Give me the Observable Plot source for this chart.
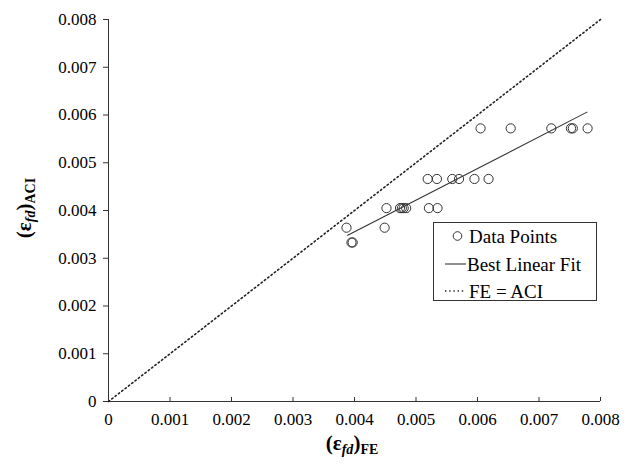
<!DOCTYPE html>
<html><head><meta charset="utf-8">
<script src="https://cdn.jsdelivr.net/npm/d3@7"></script>
<script src="https://cdn.jsdelivr.net/npm/@observablehq/plot@0.6"></script>
<style>
body{margin:0;background:#fff;}
#wrap{position:relative;width:639px;height:465px;}
</style></head><body><div id="wrap"></div>
<script>
const feStrain = [0.00605,0.00654,0.00720,0.00752,0.00755,0.00779,
  0.00519,0.00534,0.00559,0.00570,0.00595,0.00618,
  0.00452,0.00474,0.00477,0.00480,0.00484,0.00521,0.00535,
  0.00387,0.00449,
  0.00395,0.00397];
const aciStrain = [0.00572,0.00572,0.00572,0.00572,0.00572,0.00572,
  0.00466,0.00466,0.00466,0.00466,0.00466,0.00466,
  0.00405,0.00405,0.00405,0.00405,0.00405,0.00405,0.00405,
  0.00364,0.00364,
  0.00333,0.00333];
const fitX = [0.00389, 0.00778];
const fitY = [0.00348, 0.00606];
const equalX = [0, 0.008];
const equalY = [0, 0.008];
const tickValues = [0,0.001,0.002,0.003,0.004,0.005,0.006,0.007,0.008];
const tickLabels = ["0","0.001","0.002","0.003","0.004","0.005","0.006","0.007","0.008"];
const legendLabels = ["Data Points","Best Linear Fit","FE = ACI"];

const points = feStrain.map((x,i)=>({x, y: aciStrain[i]}));
const fit = fitX.map((x,i)=>({x, y: fitY[i]}));
const eq = equalX.map((x,i)=>({x, y: equalY[i]}));
const fmt = d => tickLabels[tickValues.indexOf(d)];
const ink = "#333";
const font = "'Liberation Serif', 'Times New Roman', serif";

const chart = Plot.plot({
  width: 639, height: 465,
  marginLeft: 108, marginRight: 39, marginTop: 19, marginBottom: 64,
  style: {fontFamily: font, fontSize: "17px", color: "#000", background: "#fff"},
  x: {domain: [0, 0.008]},
  y: {domain: [0, 0.008]},
  marks: [
    Plot.axisY(tickValues, {tickSize: 5, tickPadding: 7, tickFormat: fmt, label: null, stroke: ink, fontSize: 17}),
    Plot.axisX(tickValues, {tickSize: 0, tickPadding: 11, tickFormat: fmt, label: null, fontSize: 17}),
    Plot.axisX(tickValues, {tickSize: 4, dy: -4, tickFormat: () => "", label: null, stroke: ink}),
    Plot.ruleY([0], {stroke: ink}),
    Plot.ruleX([0], {stroke: ink}),
    Plot.line(eq, {x: "x", y: "y", stroke: "#222", strokeWidth: 1.6, strokeDasharray: "1.4,2.8"}),
    Plot.line(fit, {x: "x", y: "y", stroke: ink, strokeWidth: 1.1}),
    Plot.dot(points, {x: "x", y: "y", r: 4.6, stroke: ink, strokeWidth: 1, fill: "none"})
  ]
});
document.getElementById("wrap").appendChild(chart);

const svg = d3.select(chart);
svg.selectAll("text").style("font-family", font).style("font-variant-numeric", "normal").attr("fill", "#000");

// axis labels
const yl = svg.append("text")
  .attr("transform", "translate(31,208) rotate(-90)")
  .attr("text-anchor", "middle")
  .style("font-family", font).style("font-weight", "bold").style("font-size", "21px");
yl.append("tspan").text("(ε");
yl.append("tspan").attr("dy", 4).style("font-size", "14px").style("font-style", "italic").text("fd");
yl.append("tspan").attr("dy", -4).text(")");
yl.append("tspan").attr("dy", 4).style("font-size", "14px").text("ACI");

const xl = svg.append("text")
  .attr("x", 352).attr("y", 450)
  .attr("text-anchor", "middle")
  .style("font-family", font).style("font-weight", "bold").style("font-size", "21px");
xl.append("tspan").text("(ε");
xl.append("tspan").attr("dy", 4).style("font-size", "14px").style("font-style", "italic").text("fd");
xl.append("tspan").attr("dy", -4).text(")");
xl.append("tspan").attr("dy", 4).style("font-size", "14px").text("FE");

// legend
const lg = svg.append("g");
lg.append("rect").attr("x", 433.5).attr("y", 222.5).attr("width", 163).attr("height", 78)
  .attr("fill", "#fff").attr("stroke", ink).attr("stroke-width", 1);
const rows = [236, 264, 291];
lg.append("circle").attr("cx", 457.5).attr("cy", rows[0]).attr("r", 4.3)
  .attr("fill", "none").attr("stroke", ink);
lg.append("line").attr("x1", 445).attr("x2", 466).attr("y1", rows[1]).attr("y2", rows[1])
  .attr("stroke", ink).attr("stroke-width", 1.1);
lg.append("line").attr("x1", 445).attr("x2", 466).attr("y1", rows[2]).attr("y2", rows[2])
  .attr("stroke", "#222").attr("stroke-width", 1.6).attr("stroke-dasharray", "1.4,2.8");
legendLabels.forEach((t, i) => {
  lg.append("text").attr("x", i === 1 ? 467 : 469).attr("y", rows[i]).attr("dy", "0.35em")
    .attr("text-anchor", "start")
    .style("font-family", font).style("font-size", "19px").text(t);
});
</script></body></html>
